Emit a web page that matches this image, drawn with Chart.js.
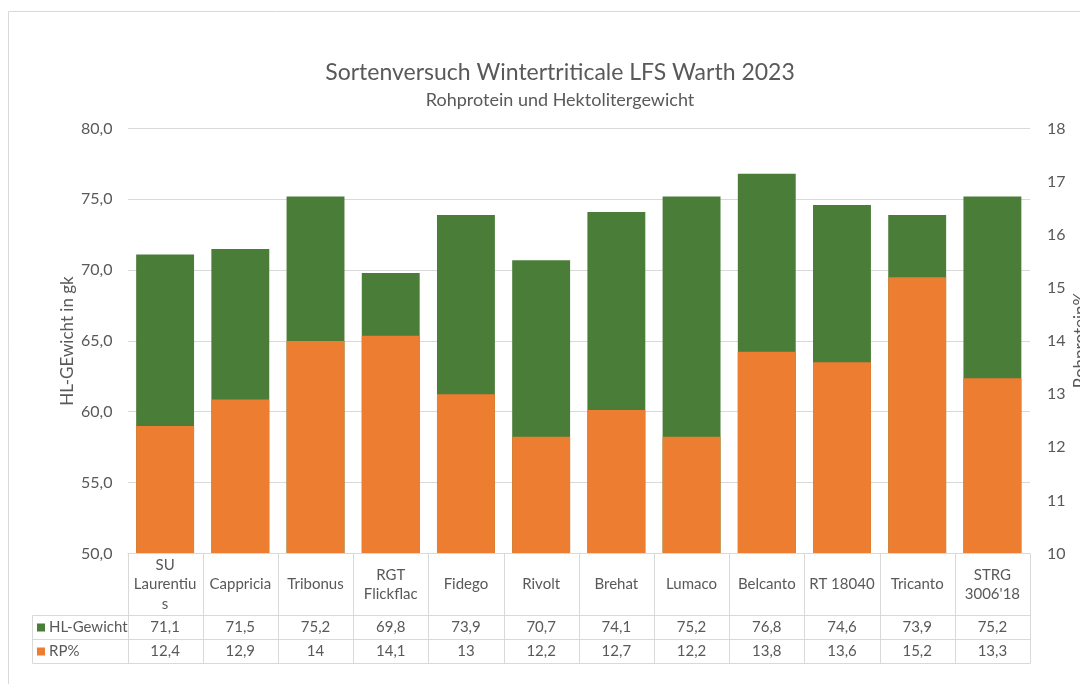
<!DOCTYPE html>
<html>
<head>
<meta charset="utf-8">
<script src="https://cdn.jsdelivr.net/npm/chart.js@4"></script>
<style>
  html, body { margin: 0; padding: 0; background: #fff; }
  #wrap { width: 1080px; height: 684px; position: relative; }
</style>
</head>
<body>
<div id="wrap"><canvas id="myChart" width="1080" height="684"></canvas></div>
<script>
const sorten = [
  ["SU", "Laurentiu", "s"], "Cappricia", "Tribonus", ["RGT", "Flickflac"], "Fidego", "Rivolt",
  "Brehat", "Lumaco", "Belcanto", "RT 18040", "Tricanto", ["STRG", "3006'18"]
];
const hlGewicht = [71.1, 71.5, 75.2, 69.8, 73.9, 70.7, 74.1, 75.2, 76.8, 74.6, 73.9, 75.2];
const rohprotein = [12.4, 12.9, 14, 14.1, 13, 12.2, 12.7, 12.2, 13.8, 13.6, 15.2, 13.3];

const GRUEN = "#4a7d38";
const ORANGE = "#ed7d31";
const GRAU = "#595959";
const LINIE = "#d9d9d9";
const FONT = "Lato, 'Open Sans', sans-serif";

const komma = (v, d) => (d ? v.toFixed(d) : String(v)).replace(".", ",");

// Rahmen, Titel, rechte Achsenbeschriftung und Datentabelle
const extras = {
  id: "extras",
  afterDraw(chart) {
    const c = chart.ctx;
    const x = chart.scales.x;
    const area = chart.chartArea;
    c.save();

    // Diagrammrahmen (nur links und oben sichtbar)
    c.strokeStyle = LINIE;
    c.lineWidth = 1;
    c.beginPath();
    c.moveTo(8.5, 684);
    c.lineTo(8.5, 11.5);
    c.lineTo(1080, 11.5);
    c.stroke();

    c.fillStyle = GRAU;
    c.textAlign = "center";
    c.textBaseline = "alphabetic";
    c.font = "23px " + FONT;
    c.fillText("Sortenversuch Wintertriticale LFS Warth 2023", 560, 80);
    c.font = "18px " + FONT;
    c.fillText("Rohprotein und Hektolitergewicht", 560, 106);

    // Titel der Sekundärachse (am Bildrand abgeschnitten)
    c.save();
    c.translate(1081, 340);
    c.rotate(-Math.PI / 2);
    c.textBaseline = "middle";
    c.font = "17px " + FONT;
    c.fillText("Rohprotein%", 0, 0);
    c.restore();

    // Datentabelle
    const top = area.bottom;
    const r1 = 615.5, r2 = 639.5, r3 = 663.5;
    const step = (area.right - area.left) / sorten.length;
    c.strokeStyle = LINIE;
    c.beginPath();
    c.moveTo(area.left, top); c.lineTo(area.right, top);
    c.moveTo(32.5, r1); c.lineTo(area.right, r1);
    c.moveTo(32.5, r2); c.lineTo(area.right, r2);
    c.moveTo(32.5, r3); c.lineTo(area.right, r3);
    c.moveTo(32.5, r1); c.lineTo(32.5, r3);
    for (let i = 0; i <= sorten.length; i++) {
      const lx = Math.round(area.left + i * step) + 0.5;
      c.moveTo(lx, top); c.lineTo(lx, r3);
    }
    c.stroke();

    c.fillStyle = GRAU;
    c.textBaseline = "middle";
    c.textAlign = "center";
    c.font = "15px " + FONT;
    sorten.forEach((s, i) => {
      const cx = x.getPixelForValue(i);
      const lines = Array.isArray(s) ? s : [s];
      const lh = 19.5;
      const y0 = 584.5 - (lines.length - 1) * lh / 2;
      lines.forEach((t, j) => c.fillText(t, cx, y0 + j * lh));
      c.fillText(komma(hlGewicht[i], 1), cx, (r1 + r2) / 2);
      c.fillText(komma(rohprotein[i]), cx, (r2 + r3) / 2);
    });

    c.textAlign = "left";
    c.fillStyle = GRUEN;
    c.fillRect(37, (r1 + r2) / 2 - 4, 8, 8);
    c.fillStyle = ORANGE;
    c.fillRect(37, (r2 + r3) / 2 - 4, 8, 8);
    c.fillStyle = GRAU;
    c.fillText("HL-Gewicht", 49, (r1 + r2) / 2);
    c.fillText("RP%", 49, (r2 + r3) / 2);
    c.restore();
  }
};

const ctx = document.querySelector("#myChart");

const myChart = new Chart(ctx, {
  type: "bar",
  data: {
    labels: sorten,
    datasets: [
      {
        label: "HL-Gewicht",
        data: hlGewicht,
        backgroundColor: GRUEN,
        yAxisID: "y",
        order: 2,
      },
      {
        label: "RP%",
        data: rohprotein,
        backgroundColor: ORANGE,
        yAxisID: "y1",
        order: 1,
      },
    ],
  },
  options: {
    responsive: false,
    animation: false,
    layout: { padding: { top: 128.5, bottom: 130.5, left: 0, right: 0 } },
    datasets: {
      bar: { grouped: false, barPercentage: 0.77, categoryPercentage: 1 },
    },
    plugins: {
      legend: false,
      tooltip: { enabled: false },
    },
    scales: {
      x: { display: false },
      y: {
        position: "left",
        min: 50,
        max: 80,
        afterFit(scale) { scale.width = 127.5; },
        ticks: {
          stepSize: 5,
          padding: 15,
          color: GRAU,
          font: { family: FONT, size: 16 },
          callback: (v) => komma(v, 1),
        },
        grid: { color: LINIE, drawTicks: false },
        border: { display: false },
        title: {
          display: true,
          text: "HL-GEwicht in gk",
          color: GRAU,
          font: { family: FONT, size: 17 },
          padding: { top: 57, bottom: 0 },
        },
      },
      y1: {
        position: "right",
        min: 10,
        max: 18,
        afterFit(scale) { scale.width = 50; },
        ticks: {
          stepSize: 1,
          padding: 17,
          color: GRAU,
          font: { family: FONT, size: 16 },
        },
        grid: { display: false, drawTicks: false },
        border: { display: false },
      },
    },
  },
  plugins: [extras],
});
</script>
</body>
</html>
